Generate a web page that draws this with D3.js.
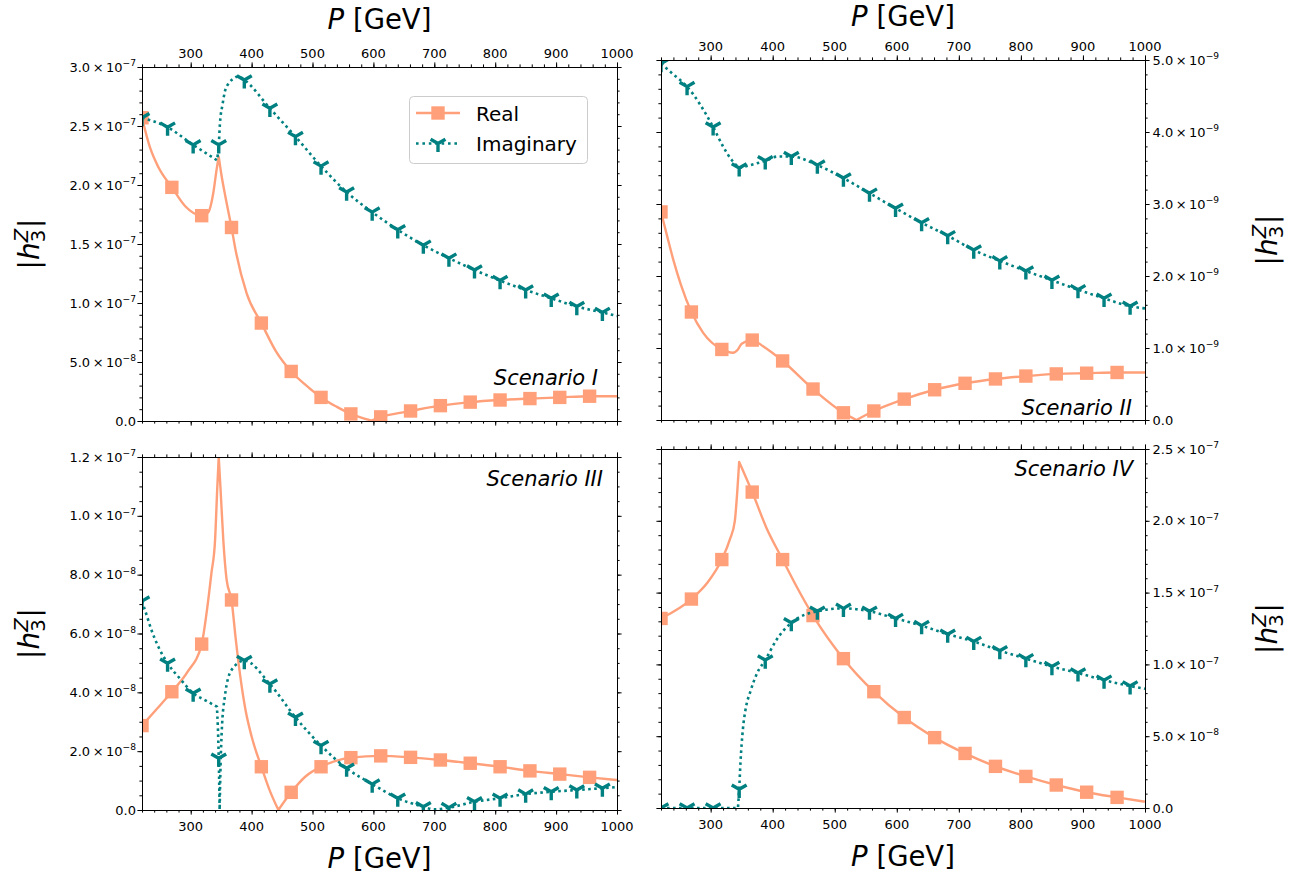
<!DOCTYPE html>
<html>
<head>
<meta charset="utf-8">
<script src="https://cdn.jsdelivr.net/npm/d3@7"></script>
<style>
  body { margin: 0; background: #fff; }
  svg { font-family: "DejaVu Sans", sans-serif; }
</style>
</head>
<body>
<svg id="chart" width="1300" height="878"></svg>
<script>
// shared x axis (P in GeV)
var xDomain = [220, 1000];
var xTicks = [300, 400, 500, 600, 700, 800, 900, 1000];

// points of each curve that carry a marker
var realMarkX = [220, 269, 318, 367, 416, 465, 514, 563, 612, 661, 710, 759, 808, 857, 906, 955];
var imagMarkX = [220, 262, 304, 346, 388, 430, 472, 514, 556, 598, 640, 682, 724, 766, 808, 850, 892, 934, 976];

// Scenario I, values in 1e-7
var s1RealX = [220, 233, 247, 269, 291, 318, 329, 337, 342.5, 346, 350, 357, 367, 374, 392, 416, 440, 465, 490, 514, 540, 563, 585, 597, 612, 635, 661, 710, 759, 808, 857, 906, 955, 1000];
var s1RealY = [2.57, 2.32, 2.15, 1.98, 1.82, 1.74, 1.77, 1.93, 2.13, 2.24, 2.10, 1.90, 1.64, 1.44, 1.08, 0.83, 0.59, 0.42, 0.30, 0.20, 0.12, 0.06, 0.02, 0.003, 0.035, 0.06, 0.085, 0.13, 0.16, 0.178, 0.19, 0.20, 0.21, 0.21];
var s1RealKinks = [346, 597];
var s1ImagX = [220, 262, 304, 325, 343, 346, 348, 352.5, 356, 362, 370, 378, 388, 430, 472, 514, 556, 598, 640, 682, 724, 766, 808, 850, 892, 934, 976, 1000];
var s1ImagY = [2.57, 2.49, 2.34, 2.27, 2.21, 2.34, 2.52, 2.69, 2.79, 2.86, 2.90, 2.92, 2.89, 2.65, 2.41, 2.16, 1.94, 1.77, 1.62, 1.49, 1.38, 1.28, 1.19, 1.11, 1.04, 0.97, 0.92, 0.89];
var s1ImagKinks = [343];
var s1YTicks = [0, 0.5, 1.0, 1.5, 2.0, 2.5, 3.0];

// Scenario II, values in 1e-9
var s2RealX = [220, 230, 240, 252, 269, 288, 318, 336, 344, 350, 367, 385, 416, 465, 514, 535, 563, 612, 661, 710, 759, 808, 857, 906, 955, 1000];
var s2RealY = [2.89, 2.55, 2.22, 1.88, 1.50, 1.21, 0.98, 0.935, 0.98, 1.06, 1.11, 1.02, 0.82, 0.43, 0.10, 0.0, 0.125, 0.29, 0.42, 0.51, 0.57, 0.61, 0.64, 0.65, 0.66, 0.66];
var s2RealKinks = [535];
var s2ImagX = [220, 240, 262, 304, 320, 334, 346, 364, 388, 408, 430, 472, 514, 556, 598, 640, 682, 724, 766, 808, 850, 892, 934, 976, 1000];
var s2ImagY = [4.95, 4.80, 4.63, 4.07, 3.80, 3.61, 3.50, 3.54, 3.60, 3.66, 3.66, 3.54, 3.36, 3.15, 2.94, 2.74, 2.56, 2.36, 2.21, 2.07, 1.94, 1.81, 1.69, 1.58, 1.55];
var s2ImagKinks = [346];
var s2YTicks = [0, 1, 2, 3, 4, 5];

// Scenario III, values in 1e-8
var s3RealX = [220, 245, 269, 295, 318, 326, 334, 340, 343.5, 346, 349, 353.5, 359, 367, 374, 381, 390, 400, 416, 430, 444, 465, 488, 514, 537, 563, 612, 661, 710, 759, 808, 857, 906, 955, 1000];
var s3RealY = [2.87, 3.45, 4.02, 4.70, 5.64, 6.69, 8.05, 9.18, 10.9, 12.0, 10.9, 9.18, 7.82, 7.14, 5.8, 4.6, 3.4, 2.5, 1.47, 0.65, 0.0, 0.60, 1.13, 1.47, 1.66, 1.78, 1.84, 1.79, 1.70, 1.59, 1.47, 1.33, 1.22, 1.11, 1.02];
var s3RealKinks = [346, 444];
var s3ImagX = [220, 228, 235, 248, 262, 283, 304, 325, 343, 346, 347.5, 349, 351, 356, 367, 388, 430, 472, 514, 556, 598, 640, 682, 700, 724, 766, 808, 850, 892, 934, 976, 1000];
var s3ImagY = [7.10, 6.60, 6.15, 5.50, 4.99, 4.45, 3.97, 3.72, 3.51, 1.76, 0.0, 1.5, 2.7, 3.85, 4.76, 5.08, 4.28, 3.15, 2.19, 1.42, 0.88, 0.40, 0.11, 0.02, 0.08, 0.28, 0.40, 0.54, 0.62, 0.68, 0.74, 0.78];
var s3ImagKinks = [343, 347.5];
var s3YTicks = [0, 2, 4, 6, 8, 10, 12];

// Scenario IV, values in 1e-7
var s4RealX = [220, 269, 295, 318, 331, 339, 343, 346, 367, 390, 416, 440, 465, 514, 563, 612, 661, 710, 759, 808, 857, 906, 955, 1000];
var s4RealY = [1.32, 1.455, 1.57, 1.73, 1.87, 2.00, 2.21, 2.41, 2.20, 1.95, 1.73, 1.53, 1.34, 1.04, 0.81, 0.63, 0.49, 0.38, 0.29, 0.22, 0.16, 0.11, 0.074, 0.044];
var s4RealKinks = [346];
var s4ImagX = [220, 262, 304, 344, 346, 348, 352, 356, 364, 375, 388, 406, 430, 472, 514, 556, 598, 640, 682, 724, 766, 808, 850, 892, 934, 976, 1000];
var s4ImagY = [0, 0, 0, 0, 0.13, 0.31, 0.55, 0.68, 0.81, 0.94, 1.03, 1.17, 1.29, 1.37, 1.39, 1.37, 1.32, 1.27, 1.21, 1.16, 1.095, 1.04, 0.985, 0.94, 0.89, 0.85, 0.83];
var s4ImagKinks = [344];
var s4YTicks = [0, 0.5, 1.0, 1.5, 2.0, 2.5];

var panels = [
  {name: "Scenario I", unit: 1e-7, minor: 0.1, ticks: s1YTicks, realX: s1RealX, realY: s1RealY, realK: s1RealKinks, imagX: s1ImagX, imagY: s1ImagY, imagK: s1ImagKinks,
   l: 142, r: 617, t: 67, b: 421, xSide: "top", ySide: "left", tx: 598, ty: 385, titleY: 29, legend: true},
  {name: "Scenario II", unit: 1e-9, minor: 0.2, ticks: s2YTicks, realX: s2RealX, realY: s2RealY, realK: s2RealKinks, imagX: s2ImagX, imagY: s2ImagY, imagK: s2ImagKinks,
   l: 661, r: 1145, t: 60, b: 420, xSide: "top", ySide: "right", tx: 1132, ty: 415, titleY: 26},
  {name: "Scenario III", unit: 1e-8, minor: 0.5, ticks: s3YTicks, realX: s3RealX, realY: s3RealY, realK: s3RealKinks, imagX: s3ImagX, imagY: s3ImagY, imagK: s3ImagKinks,
   l: 142, r: 617, t: 457, b: 810, xSide: "bottom", ySide: "left", tx: 603, ty: 486, titleY: 868},
  {name: "Scenario IV", unit: 1e-7, minor: 0.1, ticks: s4YTicks, realX: s4RealX, realY: s4RealY, realK: s4RealKinks, imagX: s4ImagX, imagY: s4ImagY, imagK: s4ImagKinks,
   l: 661, r: 1145, t: 449, b: 808, xSide: "bottom", ySide: "right", tx: 1133, ty: 476, titleY: 866}
];

// Colors
var realColor = "#FFA07A";
var imagColor = "#008080";

var svg = d3.select("#chart");

// Functions
function triPath(r) { // matplotlib "1" marker (tri_down)
  var c = 0.866 * r, s = 0.5 * r;
  return "M0,0L0," + r + "M0,0L" + (-c) + "," + (-s) + "M0,0L" + c + "," + (-s);
}

function curvePath(X, Y, kinks, x, y, unit) { // monotone pieces, joined sharp at the kinks
  var line = d3.line().curve(d3.curveMonotoneX)
               .x(function(d) { return x(d[0]); })
               .y(function(d) { return y(d[1] * unit); });
  var segs = [], cur = [];
  X.forEach(function(v, i) {
    cur.push([v, Y[i]]);
    if (kinks.indexOf(v) >= 0 && i > 0 && i < X.length - 1) { segs.push(cur); cur = [[v, Y[i]]]; }
  });
  segs.push(cur);
  var d = segs.map(function(s) { return line(s); }).join("");
  return "M" + d.slice(1).replace(/M/g, "L");
}

function sciLabel(text, v) {
  if (v === 0) { text.text("0.0"); return; }
  var e = Math.floor(Math.log10(v) + 1e-6);
  var m = v / Math.pow(10, e);
  text.append("tspan").text(m.toFixed(1));
  text.append("tspan").attr("dx", 2.5).text("\u00d7");
  text.append("tspan").attr("dx", 2.5).text("10");
  text.append("tspan").attr("dy", -5.5).attr("font-size", 9.1).text("\u2212" + (-e));
}

function pLabel(cx, by) {
  var t = svg.append("text").attr("x", cx).attr("y", by)
             .attr("text-anchor", "middle").attr("font-size", 27.5).attr("fill", "#000");
  t.append("tspan").attr("font-style", "italic").text("P");
  t.append("tspan").text(" [GeV]");
}

function hLabel(bx, cy) { // |h_3^Z| rotated
  var outer = svg.append("g").attr("transform", "translate(" + bx + "," + cy + ") rotate(-90)");
  var g = outer.append("g");
  var pos = 0;
  function put(str, size, italic, dy) {
    var t = g.append("text").attr("x", pos).attr("y", dy).attr("font-size", size)
             .attr("font-style", italic ? "italic" : "normal").text(str);
    return t.node().getComputedTextLength();
  }
  pos += put("|", 28, false, 0);
  pos += put("h", 28, true, 0);
  var w3 = put("3", 19.6, false, 6);
  var wZ = put("Z", 19.6, true, -11);
  pos += Math.max(w3, wZ) + 1;
  pos += put("|", 28, false, 0);
  g.attr("transform", "translate(" + (-pos / 2) + ",0)");
}

function drawPanel(p, i) {
  // Scales
  var x = d3.scaleLinear().domain(xDomain).range([p.l, p.r]);
  var y = d3.scaleLinear().domain([0, p.ticks[p.ticks.length - 1] * p.unit]).range([p.b, p.t]);
  var yMax = p.ticks[p.ticks.length - 1];

  svg.append("clipPath").attr("id", "clip" + i)
     .append("rect").attr("x", p.l).attr("y", p.t).attr("width", p.r - p.l).attr("height", p.b - p.t);
  var plot = svg.append("g").attr("clip-path", "url(#clip" + i + ")");

  // Real: solid line with squares
  plot.append("path")
      .attr("d", curvePath(p.realX, p.realY, p.realK, x, y, p.unit))
      .attr("fill", "none").attr("stroke", realColor).attr("stroke-width", 2.4)
      .attr("stroke-linejoin", "round");
  plot.selectAll("rect.realMark")
      .data(p.realX.map(function(v, j) { return [v, p.realY[j]]; })
                   .filter(function(d) { return realMarkX.indexOf(d[0]) >= 0; }))
      .enter()
      .append("rect")
      .attr("class", "realMark")
      .attr("x", function(d) { return x(d[0]) - 6.7; })
      .attr("y", function(d) { return y(d[1] * p.unit) - 6.7; })
      .attr("width", 13.4).attr("height", 13.4)
      .attr("fill", realColor);

  // Imaginary: dotted line with tri_down markers
  plot.append("path")
      .attr("d", curvePath(p.imagX, p.imagY, p.imagK, x, y, p.unit))
      .attr("fill", "none").attr("stroke", imagColor).attr("stroke-width", 2.6)
      .attr("stroke-dasharray", "2.6,3.4");
  plot.selectAll("path.imagMark")
      .data(p.imagX.map(function(v, j) { return [v, p.imagY[j]]; })
                   .filter(function(d) { return imagMarkX.indexOf(d[0]) >= 0; }))
      .enter()
      .append("path")
      .attr("class", "imagMark")
      .attr("transform", function(d) { return "translate(" + x(d[0]) + "," + y(d[1] * p.unit) + ")"; })
      .attr("d", triPath(8.6))
      .attr("fill", "none").attr("stroke", imagColor).attr("stroke-width", 3.4);

  // Axes (ticks outward on every side)
  var xMinor = d3.range(220, 1001, 20);
  var yMinor = d3.range(0, yMax + p.minor / 2, p.minor).map(function(v) { return v * p.unit; });
  var yMajor = p.ticks.map(function(v) { return v * p.unit; });
  var sides = [
    {axis: d3.axisTop, sc: x, pos: "translate(0," + p.t + ")", maj: xTicks, min: xMinor},
    {axis: d3.axisBottom, sc: x, pos: "translate(0," + p.b + ")", maj: xTicks, min: xMinor},
    {axis: d3.axisLeft, sc: y, pos: "translate(" + p.l + ",0)", maj: yMajor, min: yMinor},
    {axis: d3.axisRight, sc: y, pos: "translate(" + p.r + ",0)", maj: yMajor, min: yMinor}
  ];
  sides.forEach(function(s) {
    [[s.min, 2.6], [s.maj, 4.6]].forEach(function(m) {
      var ag = svg.append("g").attr("transform", s.pos)
                  .call(s.axis(s.sc).tickValues(m[0]).tickSize(m[1]).tickFormat(""));
      ag.select(".domain").remove();
      ag.selectAll(".tick line").attr("stroke-width", 1);
    });
  });
  svg.append("rect").attr("x", p.l + 0.5).attr("y", p.t + 0.5)
     .attr("width", p.r - p.l).attr("height", p.b - p.t)
     .attr("fill", "none").attr("stroke", "#000").attr("stroke-width", 1);

  // x tick labels
  svg.selectAll("text.xl" + i)
     .data(xTicks)
     .enter()
     .append("text")
     .attr("class", "xl" + i)
     .attr("x", function(d) { return x(d); })
     .attr("y", p.xSide === "top" ? p.t - 9.5 : p.b + 21)
     .attr("text-anchor", "middle").attr("font-size", 13)
     .text(function(d) { return d; });

  // y tick labels
  svg.selectAll("text.yl" + i)
     .data(yMajor)
     .enter()
     .append("text")
     .attr("class", "yl" + i)
     .attr("x", p.ySide === "left" ? p.l - 6 : p.r + 7.5)
     .attr("y", function(d) { return y(d) + 4.6; })
     .attr("text-anchor", p.ySide === "left" ? "end" : "start")
     .attr("font-size", 13)
     .each(function(d) { sciLabel(d3.select(this), d); });

  // Axis titles
  pLabel((p.l + p.r) / 2, p.titleY);
  hLabel(p.ySide === "left" ? 39 : 1277, (p.t + p.b) / 2);

  // Scenario tag
  svg.append("text").attr("x", p.tx).attr("y", p.ty)
     .attr("text-anchor", "end").attr("font-size", 21).attr("font-style", "italic")
     .text(p.name);

  if (p.legend) {
    var lg = svg.append("g");
    lg.append("rect").attr("x", 409.5).attr("y", 96.5).attr("width", 178).attr("height", 67).attr("rx", 4)
      .attr("fill", "#fff").attr("fill-opacity", 0.8).attr("stroke", "#cccccc").attr("stroke-width", 1);
    lg.append("line").attr("x1", 416).attr("x2", 460).attr("y1", 113).attr("y2", 113)
      .attr("stroke", realColor).attr("stroke-width", 2.4);
    lg.append("rect").attr("x", 438 - 6.7).attr("y", 113 - 6.7).attr("width", 13.4).attr("height", 13.4)
      .attr("fill", realColor);
    lg.append("line").attr("x1", 416).attr("x2", 460).attr("y1", 143.5).attr("y2", 143.5)
      .attr("stroke", imagColor).attr("stroke-width", 2.6).attr("stroke-dasharray", "2.6,3.8");
    lg.append("path").attr("transform", "translate(438,143.5)").attr("d", triPath(8.6))
      .attr("fill", "none").attr("stroke", imagColor).attr("stroke-width", 3.4);
    lg.append("text").attr("x", 476).attr("y", 120.5).attr("font-size", 20).text("Real");
    lg.append("text").attr("x", 476).attr("y", 151).attr("font-size", 20).text("Imaginary");
  }
}

panels.forEach(drawPanel);
</script>
</body>
</html>
